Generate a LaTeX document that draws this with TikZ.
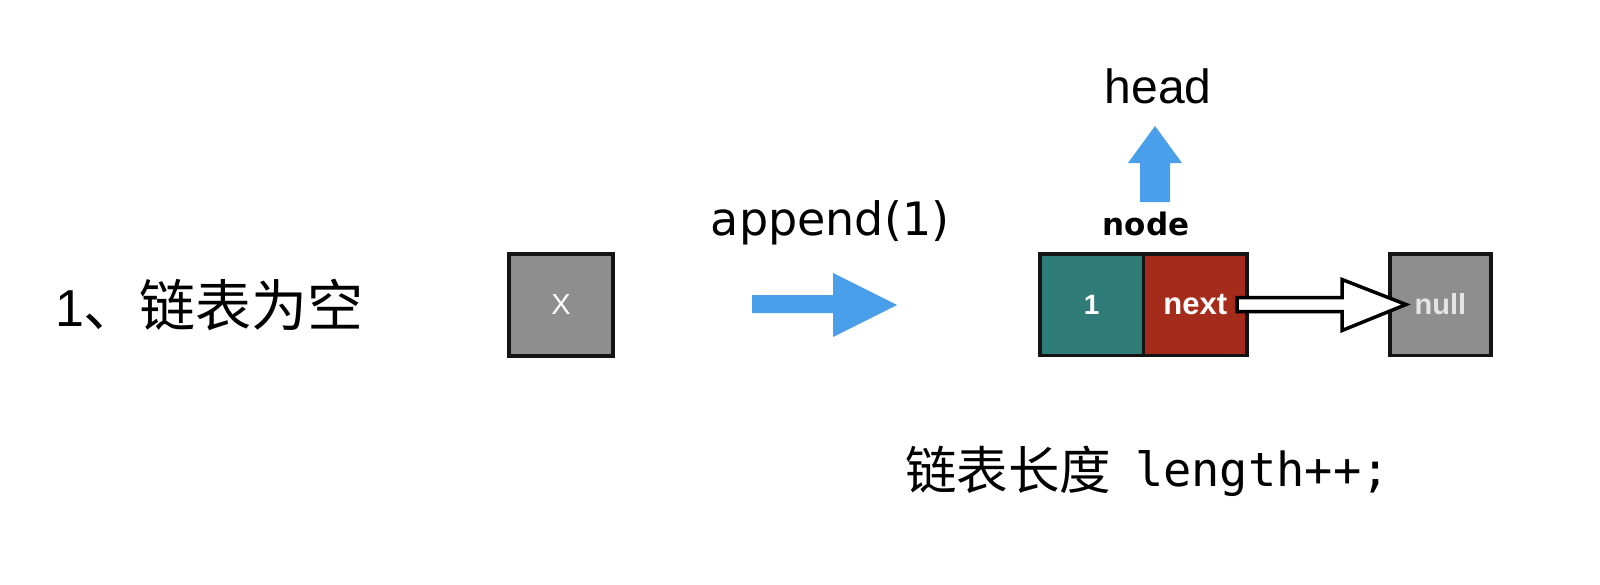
\documentclass[tikz,border=0pt]{standalone}
\usepackage{fontspec}
\setmainfont{Liberation Sans}
\newfontfamily\cjk{Noto Sans CJK SC}
\newfontfamily\dvsans{DejaVu Sans}
\newfontfamily\monofont{DejaVu Sans Mono}
\usetikzlibrary{calc}
\definecolor{cellteal}{HTML}{2F7B77}
\definecolor{cellred}{HTML}{A52B1B}
\definecolor{cellgray}{HTML}{8E8E8E}
\definecolor{arrowblue}{HTML}{4A9FEA}
\definecolor{nulltext}{HTML}{E4E4E4}
\tikzset{
  cellbox/.style={draw=black!92, line width=3.5pt, minimum width=103.5pt, minimum height=101.5pt, inner sep=0pt, outer sep=0pt, text=white},
  bluearrow/.style={fill=arrowblue, draw=none},
  ptrarrow/.style={fill=white, draw=black, line width=3.5pt, line join=miter},
  label/.style={inner sep=0pt, outer sep=0pt},
}
\begin{document}
\begin{tikzpicture}[x=1pt,y=-1pt]
\useasboundingbox (0,0) rectangle (1600,584);
% left title
\node[label, anchor=base west] (title) at (55,326) {{\fontsize{52}{60}\selectfont 1}{\cjk\fontsize{56}{60}\selectfont 、链表为空}};
% empty list box
\node[cellbox, fill=cellgray, minimum width=104pt, minimum height=102pt] (empty) at (561,305) {\fontsize{29}{32}\selectfont X};
% append label
\node[label, anchor=base] (append) at (830,235) {\dvsans\fontsize{46}{50}\selectfont append(1)};
% blue right arrow
\fill[bluearrow] (752,295) -- (833,295) -- (833,273) -- (897,305) -- (833,337) -- (833,313) -- (752,313) -- cycle;
% node cells
\node[cellbox, fill=cellteal] (val) at (1091.75,304.5) {\bfseries\fontsize{28}{32}\selectfont 1};
\node[cellbox, fill=cellred, anchor=west] (nxt) at (val.east) {\bfseries\fontsize{31}{36}\selectfont next};
\node[cellbox, fill=cellgray, minimum width=101pt] (null) at (1440.5,304.5) {\color{nulltext}\bfseries\fontsize{29}{36}\selectfont null};
% node label
\node[label, anchor=base] (nodelbl) at (1146,235) {\dvsans\bfseries\fontsize{31}{34}\selectfont node};
% head label and up arrow
\node[label, anchor=base] (head) at (1158,103) {\fontsize{48}{52}\selectfont head};
\fill[bluearrow] (1140,202) -- (1140,163) -- (1128,163) -- (1155,126) -- (1182,163) -- (1170,163) -- (1170,202) -- cycle;
% pointer arrow next -> null
\draw[ptrarrow] ($(nxt.east)+(-10,-7)$) -- ($(null.west)+(-48,-7)$) -- ($(null.west)+(-48,-25)$) -- ($(null.west)+(16,0)$) -- ($(null.west)+(-48,26)$) -- ($(null.west)+(-48,7)$) -- ($(nxt.east)+(-10,7)$) -- cycle;
% length label
\node[label, anchor=base west] (len) at (905,486) {\raisebox{-3pt}{\cjk\fontsize{51.5}{56}\selectfont 链表长度}\hspace{24pt}{\monofont\fontsize{47}{52}\selectfont length++;}};
\end{tikzpicture}
\end{document}
